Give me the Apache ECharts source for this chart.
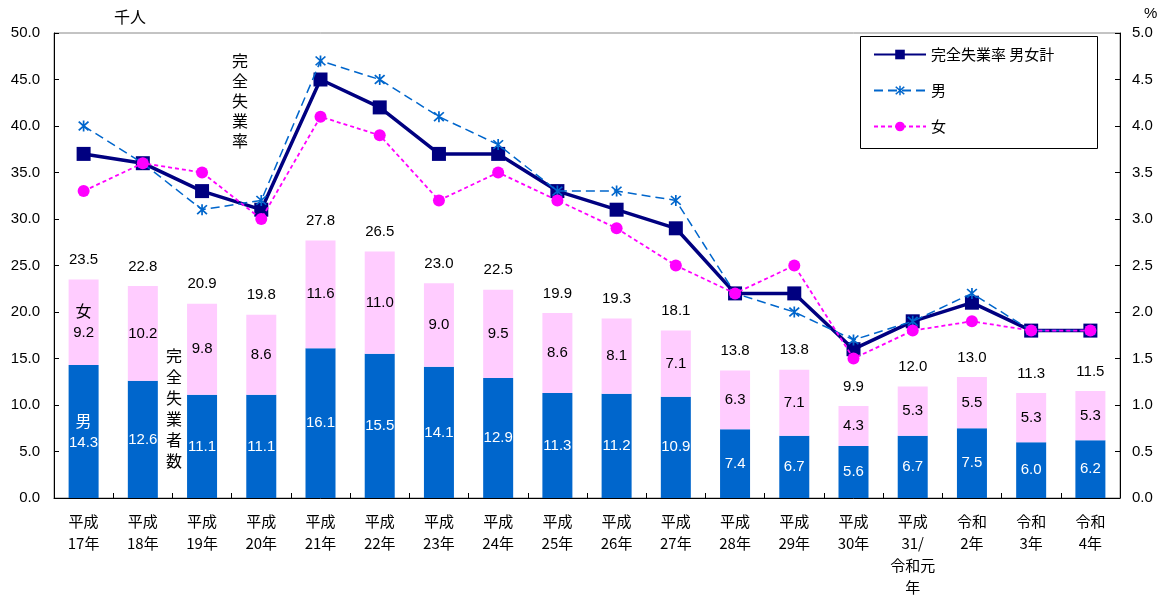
<!DOCTYPE html>
<html><head><meta charset="utf-8">
<script src="https://cdn.jsdelivr.net/npm/echarts@6/dist/echarts.min.js"></script>
<style>html,body{margin:0;padding:0;background:#fff}#c{width:1169px;height:599px}</style>
</head><body><div id="c"></div>
<script>
const categories = ['平成\n17年','平成\n18年','平成\n19年','平成\n20年','平成\n21年','平成\n22年','平成\n23年','平成\n24年','平成\n25年','平成\n26年','平成\n27年','平成\n28年','平成\n29年','平成\n30年','平成\n31/\n令和元\n年','令和\n2年','令和\n3年','令和\n4年'];
const maleCount = [14.3,12.6,11.1,11.1,16.1,15.5,14.1,12.9,11.3,11.2,10.9,7.4,6.7,5.6,6.7,7.5,6.0,6.2];
const femaleCount = [9.2,10.2,9.8,8.6,11.6,11.0,9.0,9.5,8.6,8.1,7.1,6.3,7.1,4.3,5.3,5.5,5.3,5.3];
const totalCount = [23.5,22.8,20.9,19.8,27.8,26.5,23.0,22.5,19.9,19.3,18.1,13.8,13.8,9.9,12.0,13.0,11.3,11.5];
const rateTotal = [3.7,3.6,3.3,3.1,4.5,4.2,3.7,3.7,3.3,3.1,2.9,2.2,2.2,1.6,1.9,2.1,1.8,1.8];
const rateMale = [4.0,3.6,3.1,3.2,4.7,4.5,4.1,3.8,3.3,3.3,3.2,2.2,2.0,1.7,1.9,2.2,1.8,1.8];
const rateFemale = [3.3,3.6,3.5,3.0,4.1,3.9,3.2,3.5,3.2,2.9,2.5,2.2,2.5,1.5,1.8,1.9,1.8,1.8];

const FONT = '"Liberation Sans", Arial, sans-serif';
const JP = '"Noto Sans CJK JP", sans-serif';
const star = 'path://M-0.7,-5 L0.7,-5 L0.7,5 L-0.7,5 Z M-4.5,-3.5 L-3.5,-4.5 L4.5,3.5 L3.5,4.5 Z M3.5,-4.5 L4.5,-3.5 L-3.5,4.5 L-4.5,3.5 Z';

const chart = echarts.init(document.getElementById('c'), null, {renderer:'canvas'});
chart.setOption({
  animation:false,
  backgroundColor:'#fff',
  grid:{left:54,right:49,top:33,bottom:101,show:true,borderColor:'#888',borderWidth:1,backgroundColor:'transparent'},
  legend:{
    orient:'vertical', left:868, top:42, itemGap:21, itemWidth:52, itemHeight:12,
    textStyle:{fontFamily:JP,fontSize:15,color:'#000'},
    data:['完全失業率 男女計','男','女']
  },
  xAxis:{
    type:'category', data:categories,
    axisLine:{lineStyle:{color:'#000',width:1}},
    axisTick:{show:true,inside:true,length:5,lineStyle:{color:'#000'},alignWithLabel:false},
    axisLabel:{fontFamily:JP,fontSize:15,color:'#000',lineHeight:22,margin:12,interval:0}
  },
  yAxis:[
    {type:'value',min:0,max:50,interval:5,
     axisLine:{show:true,lineStyle:{color:'#000'}},
     axisTick:{show:true,inside:true,length:5,lineStyle:{color:'#000'}},
     splitLine:{show:false},
     axisLabel:{fontFamily:FONT,fontSize:15,color:'#000',margin:14,formatter:v=>v.toFixed(1)}},
    {type:'value',min:0,max:5,interval:0.5,position:'right',
     axisLine:{show:true,lineStyle:{color:'#000'}},
     axisTick:{show:true,inside:true,length:5,lineStyle:{color:'#000'}},
     splitLine:{show:false},
     axisLabel:{fontFamily:FONT,fontSize:15,color:'#000',margin:12,formatter:v=>v.toFixed(1)}}
  ],
  series:[
    {name:'男性者数',type:'bar',stack:'cnt',data:maleCount,barWidth:30,
     itemStyle:{color:'#0066CC'},
     label:{show:true,position:'inside',color:'#fff',fontFamily:FONT,fontSize:15,lineHeight:22,
       formatter:p=>(p.dataIndex===0?'{j|男}\n':'')+p.value.toFixed(1),
       rich:{j:{fontFamily:JP,fontSize:16,color:'#fff',lineHeight:22}}}},
    {name:'女性者数',type:'bar',stack:'cnt',data:femaleCount,barWidth:30,
     itemStyle:{color:'#FFCCFF'},
     label:{show:true,position:'inside',color:'#000',fontFamily:FONT,fontSize:15,lineHeight:22,
       formatter:p=>(p.dataIndex===0?'{j|女}\n':'')+p.value.toFixed(1),
       rich:{j:{fontFamily:JP,fontSize:16,color:'#000',lineHeight:22}}}},
    {name:'計者数',type:'bar',stack:'cnt',data:totalCount.map(()=>0),barWidth:30,
     itemStyle:{color:'transparent'},
     label:{show:true,position:'top',distance:12,color:'#000',fontFamily:FONT,fontSize:15,
       formatter:p=>totalCount[p.dataIndex].toFixed(1)}},
    {name:'完全失業率 男女計',type:'line',yAxisIndex:1,data:rateTotal,symbol:'rect',symbolSize:14,
     lineStyle:{color:'#000080',width:3.5},itemStyle:{color:'#000080'},z:3},
    {name:'男',type:'line',yAxisIndex:1,data:rateMale,symbol:star,symbolSize:11,
     lineStyle:{color:'#0066CC',width:1.5,type:[9,5]},itemStyle:{color:'#0066CC'},z:4},
    {name:'女',type:'line',yAxisIndex:1,data:rateFemale,symbol:'circle',symbolSize:12,
     lineStyle:{color:'#FF00FF',width:1.8,type:[4,3]},itemStyle:{color:'#FF00FF'},z:5}
  ],
  graphic:[
    {type:'rect',left:860,top:36,shape:{width:237,height:112},style:{fill:'transparent',stroke:'#000',lineWidth:1},z:10},
    {type:'text',left:114,top:9,style:{text:'千人',fontFamily:JP,fontSize:16,fill:'#000'}},
    {type:'text',left:1144,top:6,style:{text:'%',fontFamily:FONT,fontSize:15,fill:'#000'}},
    {type:'text',left:232,top:51,style:{text:'完\n全\n失\n業\n率',fontFamily:JP,fontSize:16,lineHeight:20,fill:'#000'}},
    {type:'text',left:166,top:345,style:{text:'完\n全\n失\n業\n者\n数',fontFamily:JP,fontSize:16,lineHeight:21,fill:'#000'}}
  ]
});
</script></body></html>
